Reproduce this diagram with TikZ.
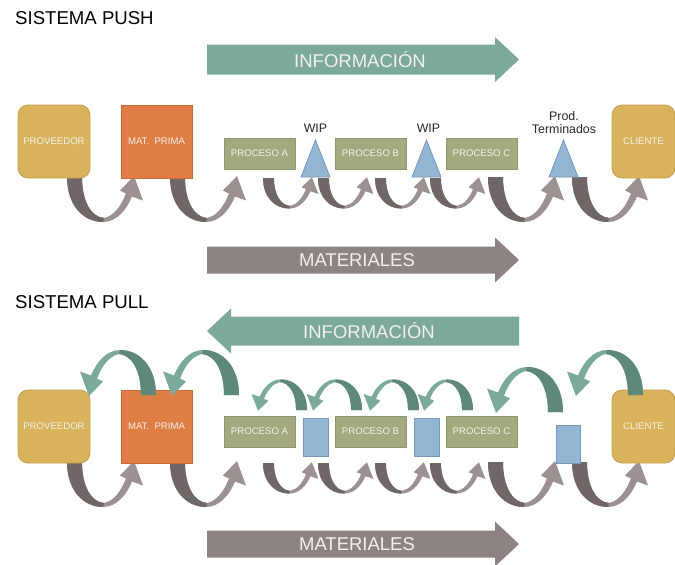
\documentclass[tikz,border=0pt]{standalone}
\usepackage{fontspec}
\setmainfont{Liberation Sans}
\definecolor{boxgold}{HTML}{D8B35C}
\definecolor{boxgoldline}{HTML}{C4A050}
\definecolor{boxorange}{HTML}{DE7E45}
\definecolor{boxorangeline}{HTML}{C96A35}
\definecolor{boxolive}{HTML}{A3AB7E}
\definecolor{boxoliveline}{HTML}{8E976A}
\definecolor{boxblue}{HTML}{93B6D5}
\definecolor{boxblueline}{HTML}{7798BA}
\definecolor{infoteal}{HTML}{7BA99A}
\definecolor{infodark}{HTML}{5E887C}
\definecolor{infolight}{HTML}{7AAA9B}
\definecolor{matgray}{HTML}{8D8382}
\definecolor{matdark}{HTML}{6F6766}
\definecolor{matlight}{HTML}{9A9190}
\definecolor{softwhite}{HTML}{F4F1EC}
\tikzset{
  boxbase/.style={draw, line width=0.8pt, text=softwhite, align=center,
    font=\fontsize{9.6}{11}\selectfont, inner sep=0pt},
  partner/.style={boxbase, fill=boxgold, draw=boxgoldline, rounded corners=10pt,
    minimum height=73pt},
  rawstock/.style={boxbase, fill=boxorange, draw=boxorangeline,
    minimum width=71pt, minimum height=73pt},
  procbox/.style={boxbase, fill=boxolive, draw=boxoliveline,
    minimum width=71pt, minimum height=31pt},
  stockpath/.style={fill=boxblue, draw=boxblueline, line width=0.8pt},
  stocklabel/.style={font=\fontsize{12.4}{14}\selectfont, text=black!85, inner sep=0pt},
  heading/.style={font=\fontsize{18.6}{20}\selectfont, text=black, anchor=west, inner sep=0pt},
  bandtext/.style={font=\fontsize{18.5}{20}\selectfont, text=softwhite, inner sep=0pt},
  % U-shaped block arrow: dark back leg, lighter front shaft ending in a head
  pics/bend/.style 2 args={code={
    \fill[#2] (0,0) .. controls (0,28) and (16,45) .. (36,45)
      .. controls (50,45) and (60,32) .. (65,19.5) -- (76,23.5) -- (67,-1) -- (53,13.5)
      -- (59,16.5) .. controls (54,29) and (47,39) .. (37,41)
      .. controls (24,40) and (15,24) .. (15,0) -- cycle;
    \fill[#1] (0,0) .. controls (0,28) and (16,45) .. (36,45) -- (37,41)
      .. controls (24,40) and (15,24) .. (15,0) -- cycle;
  }},
  small/.style={xscale=0.73, yscale=0.68}
}
\begin{document}
\begin{tikzpicture}[x=1pt, y=-1pt]
\useasboundingbox (0,0) rectangle (675,565);

% ---------- push system ----------
\node[heading] (pushtitle) at (15,18) {SISTEMA PUSH};

\fill[infoteal] (207,44.5) -- (495,44.5) -- (495,37) -- (519,59.5) -- (495,82)
  -- (495,74.5) -- (207,74.5) -- cycle;
\node[bandtext] (pushinfo) at (360,60) {INFORMACIÓN};

\fill[matgray] (207,246.5) -- (495,246.5) -- (495,237.5) -- (519,260) -- (495,282.5)
  -- (495,273.5) -- (207,273.5) -- cycle;
\node[bandtext] (pushmat) at (357,260) {MATERIALES};

% material flow
\pic at (67,177) {bend={matdark}{matlight}};
\pic at (170,177) {bend={matdark}{matlight}};
\pic[small] at (263,178) {bend={matdark}{matlight}};
\pic[small] at (318,178) {bend={matdark}{matlight}};
\pic[small] at (375,178) {bend={matdark}{matlight}};
\pic[small] at (430,178) {bend={matdark}{matlight}};
\pic at (488,177) {bend={matdark}{matlight}};
\pic at (572,177) {bend={matdark}{matlight}};

\node[partner, minimum width=72pt] (prov1) at (54,141.5) {PROVEEDOR};
\node[rawstock] (mat1) at (156.5,141.5) {MAT.\ \ PRIMA};
\node[procbox] (pa1) at (259.5,153.5) {PROCESO A};
\node[procbox] (pb1) at (370.5,153.5) {PROCESO B};
\node[procbox] (pc1) at (481.5,153.5) {PROCESO C};
\node[partner, minimum width=63pt] (cli1) at (643.5,141.5) {CLIENTE};

\draw[stockpath] (301,177) -- (315.5,140) -- (330,177) -- cycle;
\draw[stockpath] (412,177) -- (426.5,140) -- (441,177) -- cycle;
\draw[stockpath] (549,177) -- (563.5,140) -- (578,177) -- cycle;
\node[stocklabel] (wip1) at (315.5,128.5) {WIP};
\node[stocklabel] (wip2) at (428.5,128.5) {WIP};
\node[stocklabel, align=center] (fin1) at (564,122.5)
  {Prod.\\[-1.5pt]Terminados};

% ---------- pull system ----------
\node[heading] (pulltitle) at (15,302) {SISTEMA PULL};

\fill[infoteal] (519,316.5) -- (231,316.5) -- (231,308.5) -- (207,331) -- (231,353.5)
  -- (231,345.5) -- (519,345.5) -- cycle;
\node[bandtext] (pullinfo) at (369,331) {INFORMACIÓN};

\fill[matgray] (207,530.5) -- (495,530.5) -- (495,521.5) -- (519,544) -- (495,566.5)
  -- (495,557.5) -- (207,557.5) -- cycle;
\node[bandtext] (pullmat) at (357,544) {MATERIALES};

% material flow
\pic at (67,462) {bend={matdark}{matlight}};
\pic at (170,462) {bend={matdark}{matlight}};
\pic[small] at (263,463) {bend={matdark}{matlight}};
\pic[small] at (318,463) {bend={matdark}{matlight}};
\pic[small] at (375,463) {bend={matdark}{matlight}};
\pic[small] at (430,463) {bend={matdark}{matlight}};
\pic at (488,462) {bend={matdark}{matlight}};
\pic at (572,462) {bend={matdark}{matlight}};

\node[partner, minimum width=72pt] (prov2) at (54,426.5) {PROVEEDOR};
\node[rawstock] (mat2) at (156.5,426.5) {MAT.\ \ PRIMA};
\node[procbox] (pa2) at (259.5,431.5) {PROCESO A};
\node[procbox] (pb2) at (370.5,431.5) {PROCESO B};
\node[procbox] (pc2) at (481.5,431.5) {PROCESO C};
\node[partner, minimum width=63pt] (cli2) at (643.5,426.5) {CLIENTE};

\node[stockpath, minimum width=25pt, minimum height=38pt, inner sep=0pt] (kan1) at (315.5,437) {};
\node[stockpath, minimum width=25pt, minimum height=38pt, inner sep=0pt] (kan2) at (426.5,437) {};
\node[stockpath, minimum width=24pt, minimum height=38pt, inner sep=0pt] (kan3) at (568,444) {};

% information flow (runs backwards over the top)
\pic[rotate=180] at (156,395) {bend={infodark}{infolight}};
\pic[rotate=180] at (239,395) {bend={infodark}{infolight}};
\pic[rotate=180, small] at (307,410) {bend={infodark}{infolight}};
\pic[rotate=180, small] at (362,410) {bend={infodark}{infolight}};
\pic[rotate=180, small] at (419,410) {bend={infodark}{infolight}};
\pic[rotate=180, small] at (473,410) {bend={infodark}{infolight}};
\pic[rotate=180] at (563,412) {bend={infodark}{infolight}};
\pic[rotate=180] at (643,395) {bend={infodark}{infolight}};
\end{tikzpicture}
\end{document}
